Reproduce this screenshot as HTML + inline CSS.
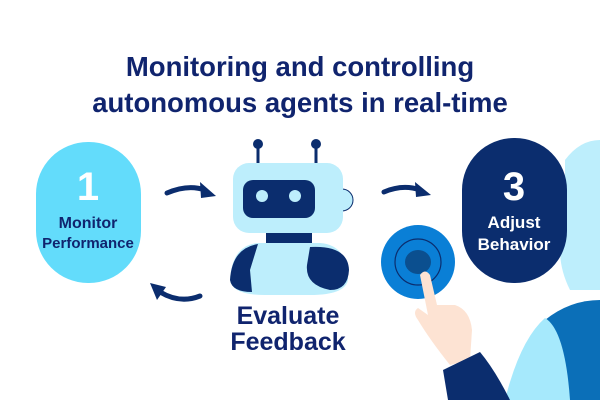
<!DOCTYPE html><html><head><style>
body{margin:0;width:600px;height:400px;background:#fff;overflow:hidden;font-family:"Liberation Sans",sans-serif}
</style></head><body>
<svg width="600" height="400" viewBox="0 0 600 400" xmlns="http://www.w3.org/2000/svg" font-family="Liberation Sans, sans-serif" font-weight="bold">
<text x="300" y="76" font-size="27.5" fill="#10246e" text-anchor="middle">Monitoring and controlling</text>
<text x="300" y="112" font-size="27.5" fill="#10246e" text-anchor="middle">autonomous agents in real-time</text>
<!-- pill 1 -->
<rect x="36" y="142" width="105" height="141" rx="52" fill="#63dcfb"/>
<text x="88" y="200" font-size="40" fill="#fff" text-anchor="middle">1</text>
<text x="88" y="228" font-size="16" fill="#10246e" text-anchor="middle">Monitor</text>
<text x="88" y="248" font-size="15" fill="#10246e" text-anchor="middle">Performance</text>
<!-- arrows -->
<g stroke="#0b2d6e" stroke-width="5" fill="none" stroke-linecap="round">
<path d="M167 193 Q188 184 205 190"/>
<path d="M200 296 Q180 304 160 292"/>
<path d="M384 192 Q403 184 420 190"/>
</g>
<g fill="#0b2d6e">
<polygon points="200,182 216,196 201,198"/>
<polygon points="150,283 166,287 157,300"/>
<polygon points="415,182 431,195 416,197"/>
</g>
<!-- robot -->
<line x1="258" y1="145" x2="258" y2="165" stroke="#0b2d6e" stroke-width="3"/>
<line x1="316" y1="145" x2="316" y2="165" stroke="#0b2d6e" stroke-width="3"/>
<circle cx="258" cy="144" r="5" fill="#0b2d6e"/><circle cx="316" cy="144" r="5" fill="#0b2d6e"/>
<rect x="266" y="230" width="46" height="15" fill="#0b2d6e"/>
<path d="M230 280 Q232 245 258 243 L320 243 Q348 245 348 280 Q345 295 310 295 L265 295 Q232 295 230 280Z" fill="#bdeefc"/>
<path d="M230 280 Q232 248 258 244 L250 270 L252 292 Q232 292 230 280Z" fill="#0b2d6e"/>
<path d="M310 247 Q348 245 349 270 Q348 290 330 290 Q305 285 307 265Z" fill="#0b2d6e"/>
<circle cx="342" cy="200" r="11" fill="#bdeefc" stroke="#0b2d6e" stroke-width="1"/>
<rect x="233" y="163" width="110" height="70" rx="16" fill="#bdeefc"/>
<rect x="243" y="180" width="72" height="38" rx="10" fill="#0b2d6e"/>
<circle cx="262" cy="196" r="6" fill="#bdeefc"/><circle cx="295" cy="196" r="6" fill="#bdeefc"/>
<text x="288" y="324" font-size="25" fill="#10246e" text-anchor="middle">Evaluate</text>
<text x="288" y="350" font-size="25" fill="#10246e" text-anchor="middle">Feedback</text>
<!-- person -->
<path d="M565 160 Q580 140 600 140 L600 290 L570 290 Q560 270 560 250 L558 235 L565 222 Q558 205 565 190Z" fill="#bdeefc"/>
<path d="M545 400 L545 320 Q570 300 600 300 L600 400Z" fill="#0b6fb8"/>
<path d="M505 400 Q520 340 545 318 Q565 330 570 400Z" fill="#a6e9fc"/>
<!-- pill 3 -->
<rect x="462" y="138" width="105" height="145" rx="52" fill="#0b2d6e"/>
<text x="514" y="200" font-size="40" fill="#fff" text-anchor="middle">3</text>
<text x="514" y="228" font-size="17" fill="#fff" text-anchor="middle">Adjust</text>
<text x="514" y="250" font-size="17" fill="#fff" text-anchor="middle">Behavior</text>
<!-- button -->
<circle cx="418" cy="262" r="37" fill="#0a7fd6"/>
<circle cx="418" cy="262" r="23" fill="none" stroke="#0b2d6e" stroke-width="1.2"/>
<ellipse cx="418" cy="262" rx="13" ry="12" fill="#0b4f8f"/>
<!-- hand -->
<path d="M420 275 Q425 268 430 275 L437 305 L455 305 Q470 310 472 330 L470 360 L450 365 Q430 340 418 320 Q412 312 418 308 L428 315 Z" fill="#fde3d3"/>
<path d="M443 370 L480 352 Q495 370 510 400 L448 400Z" fill="#0b2d6e"/>
</svg>
</body></html>
